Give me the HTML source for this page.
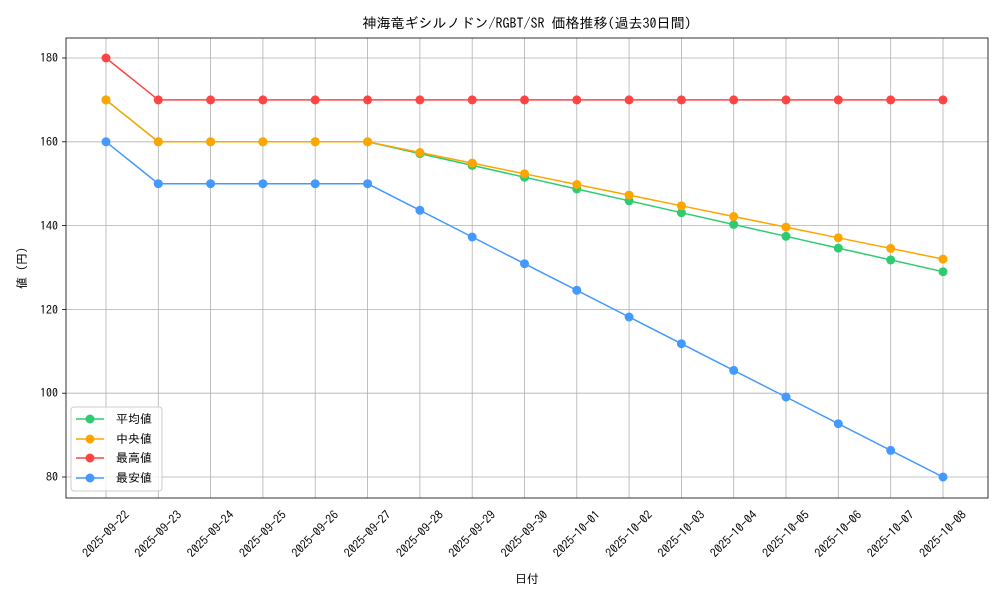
<!DOCTYPE html>
<html><head><meta charset="utf-8"><style>body{margin:0;background:#fff}svg{display:block}text{font-family:"IPAGothic","Noto Sans CJK JP",sans-serif;fill:#000}</style></head><body>
<svg width="1000" height="600" xmlns="http://www.w3.org/2000/svg">
<rect width="1000" height="600" fill="#fff"/>
<g stroke="#b0b0b0" stroke-width="0.8">
<line x1="106" y1="38" x2="106" y2="498"/><line x1="158.3" y1="38" x2="158.3" y2="498"/><line x1="210.6" y1="38" x2="210.6" y2="498"/><line x1="262.9" y1="38" x2="262.9" y2="498"/><line x1="315.2" y1="38" x2="315.2" y2="498"/><line x1="367.6" y1="38" x2="367.6" y2="498"/><line x1="419.9" y1="38" x2="419.9" y2="498"/><line x1="472.2" y1="38" x2="472.2" y2="498"/><line x1="524.5" y1="38" x2="524.5" y2="498"/><line x1="576.8" y1="38" x2="576.8" y2="498"/><line x1="629.1" y1="38" x2="629.1" y2="498"/><line x1="681.4" y1="38" x2="681.4" y2="498"/><line x1="733.7" y1="38" x2="733.7" y2="498"/><line x1="786" y1="38" x2="786" y2="498"/><line x1="838.3" y1="38" x2="838.3" y2="498"/><line x1="890.7" y1="38" x2="890.7" y2="498"/><line x1="943" y1="38" x2="943" y2="498"/>
<line x1="66" y1="58" x2="988" y2="58"/><line x1="66" y1="141.8" x2="988" y2="141.8"/><line x1="66" y1="225.6" x2="988" y2="225.6"/><line x1="66" y1="309.4" x2="988" y2="309.4"/><line x1="66" y1="393.2" x2="988" y2="393.2"/><line x1="66" y1="477" x2="988" y2="477"/>
</g>
<rect x="66" y="38" width="922" height="460" fill="none" stroke="#000" stroke-width="0.8"/>
<g stroke="#000" stroke-width="0.8">
<line x1="62" y1="58" x2="66" y2="58"/><line x1="62" y1="141.8" x2="66" y2="141.8"/><line x1="62" y1="225.6" x2="66" y2="225.6"/><line x1="62" y1="309.4" x2="66" y2="309.4"/><line x1="62" y1="393.2" x2="66" y2="393.2"/><line x1="62" y1="477" x2="66" y2="477"/>
</g>
<g font-size="12" text-anchor="end">
<text x="58" y="62">180</text><text x="58" y="146">160</text><text x="58" y="230">140</text><text x="58" y="314">120</text><text x="58" y="397">100</text><text x="58" y="481">80</text>
</g>
<g font-size="12" text-anchor="middle">
<text transform="translate(106,534) rotate(-45)" dy="4">2025-09-22</text>
<text transform="translate(158.3,534) rotate(-45)" dy="4">2025-09-23</text>
<text transform="translate(210.6,534) rotate(-45)" dy="4">2025-09-24</text>
<text transform="translate(262.9,534) rotate(-45)" dy="4">2025-09-25</text>
<text transform="translate(315.2,534) rotate(-45)" dy="4">2025-09-26</text>
<text transform="translate(367.6,534) rotate(-45)" dy="4">2025-09-27</text>
<text transform="translate(419.9,534) rotate(-45)" dy="4">2025-09-28</text>
<text transform="translate(472.2,534) rotate(-45)" dy="4">2025-09-29</text>
<text transform="translate(524.5,534) rotate(-45)" dy="4">2025-09-30</text>
<text transform="translate(576.8,534) rotate(-45)" dy="4">2025-10-01</text>
<text transform="translate(629.1,534) rotate(-45)" dy="4">2025-10-02</text>
<text transform="translate(681.4,534) rotate(-45)" dy="4">2025-10-03</text>
<text transform="translate(733.7,534) rotate(-45)" dy="4">2025-10-04</text>
<text transform="translate(786,534) rotate(-45)" dy="4">2025-10-05</text>
<text transform="translate(838.3,534) rotate(-45)" dy="4">2025-10-06</text>
<text transform="translate(890.7,534) rotate(-45)" dy="4">2025-10-07</text>
<text transform="translate(943,534) rotate(-45)" dy="4">2025-10-08</text>
</g>
<text x="527" y="583" font-size="12" text-anchor="middle">日付</text>
<text transform="translate(26,268) rotate(-90)" font-size="12" text-anchor="middle">値 (円)</text>
<text x="527" y="28" font-size="14" text-anchor="middle">神海竜ギシルノドン/RGBT/SR 価格推移(過去30日間)</text>
<g fill="none" stroke-width="1.5">
<polyline stroke="#2ecc71" points="106,99.9 158.3,141.8 210.6,141.8 262.9,141.8 315.2,141.8 367.6,141.8 419.9,153.6 472.2,165.4 524.5,177.2 576.8,189 629.1,200.8 681.4,212.7 733.7,224.5 786,236.3 838.3,248.1 890.7,259.9 943,271.7"/>
<polyline stroke="#ffa500" points="106,99.9 158.3,141.8 210.6,141.8 262.9,141.8 315.2,141.8 367.6,141.8 419.9,152.5 472.2,163.1 524.5,173.8 576.8,184.5 629.1,195.1 681.4,205.8 733.7,216.5 786,227.1 838.3,237.8 890.7,248.4 943,259.1"/>
<polyline stroke="#ff4444" points="106,58 158.3,99.9 210.6,99.9 262.9,99.9 315.2,99.9 367.6,99.9 419.9,99.9 472.2,99.9 524.5,99.9 576.8,99.9 629.1,99.9 681.4,99.9 733.7,99.9 786,99.9 838.3,99.9 890.7,99.9 943,99.9"/>
<polyline stroke="#4499ff" points="106,141.8 158.3,183.7 210.6,183.7 262.9,183.7 315.2,183.7 367.6,183.7 419.9,210.3 472.2,237 524.5,263.7 576.8,290.3 629.1,317 681.4,343.7 733.7,370.4 786,397 838.3,423.7 890.7,450.4 943,477"/>
</g>
<g fill="#2ecc71"><circle cx="106" cy="99.9" r="4.5"/><circle cx="158.3" cy="141.8" r="4.5"/><circle cx="210.6" cy="141.8" r="4.5"/><circle cx="262.9" cy="141.8" r="4.5"/><circle cx="315.2" cy="141.8" r="4.5"/><circle cx="367.6" cy="141.8" r="4.5"/><circle cx="419.9" cy="153.6" r="4.5"/><circle cx="472.2" cy="165.4" r="4.5"/><circle cx="524.5" cy="177.2" r="4.5"/><circle cx="576.8" cy="189" r="4.5"/><circle cx="629.1" cy="200.8" r="4.5"/><circle cx="681.4" cy="212.7" r="4.5"/><circle cx="733.7" cy="224.5" r="4.5"/><circle cx="786" cy="236.3" r="4.5"/><circle cx="838.3" cy="248.1" r="4.5"/><circle cx="890.7" cy="259.9" r="4.5"/><circle cx="943" cy="271.7" r="4.5"/></g>
<g fill="#ffa500"><circle cx="106" cy="99.9" r="4.5"/><circle cx="158.3" cy="141.8" r="4.5"/><circle cx="210.6" cy="141.8" r="4.5"/><circle cx="262.9" cy="141.8" r="4.5"/><circle cx="315.2" cy="141.8" r="4.5"/><circle cx="367.6" cy="141.8" r="4.5"/><circle cx="419.9" cy="152.5" r="4.5"/><circle cx="472.2" cy="163.1" r="4.5"/><circle cx="524.5" cy="173.8" r="4.5"/><circle cx="576.8" cy="184.5" r="4.5"/><circle cx="629.1" cy="195.1" r="4.5"/><circle cx="681.4" cy="205.8" r="4.5"/><circle cx="733.7" cy="216.5" r="4.5"/><circle cx="786" cy="227.1" r="4.5"/><circle cx="838.3" cy="237.8" r="4.5"/><circle cx="890.7" cy="248.4" r="4.5"/><circle cx="943" cy="259.1" r="4.5"/></g>
<g fill="#ff4444"><circle cx="106" cy="58" r="4.5"/><circle cx="158.3" cy="99.9" r="4.5"/><circle cx="210.6" cy="99.9" r="4.5"/><circle cx="262.9" cy="99.9" r="4.5"/><circle cx="315.2" cy="99.9" r="4.5"/><circle cx="367.6" cy="99.9" r="4.5"/><circle cx="419.9" cy="99.9" r="4.5"/><circle cx="472.2" cy="99.9" r="4.5"/><circle cx="524.5" cy="99.9" r="4.5"/><circle cx="576.8" cy="99.9" r="4.5"/><circle cx="629.1" cy="99.9" r="4.5"/><circle cx="681.4" cy="99.9" r="4.5"/><circle cx="733.7" cy="99.9" r="4.5"/><circle cx="786" cy="99.9" r="4.5"/><circle cx="838.3" cy="99.9" r="4.5"/><circle cx="890.7" cy="99.9" r="4.5"/><circle cx="943" cy="99.9" r="4.5"/></g>
<g fill="#4499ff"><circle cx="106" cy="141.8" r="4.5"/><circle cx="158.3" cy="183.7" r="4.5"/><circle cx="210.6" cy="183.7" r="4.5"/><circle cx="262.9" cy="183.7" r="4.5"/><circle cx="315.2" cy="183.7" r="4.5"/><circle cx="367.6" cy="183.7" r="4.5"/><circle cx="419.9" cy="210.3" r="4.5"/><circle cx="472.2" cy="237" r="4.5"/><circle cx="524.5" cy="263.7" r="4.5"/><circle cx="576.8" cy="290.3" r="4.5"/><circle cx="629.1" cy="317" r="4.5"/><circle cx="681.4" cy="343.7" r="4.5"/><circle cx="733.7" cy="370.4" r="4.5"/><circle cx="786" cy="397" r="4.5"/><circle cx="838.3" cy="423.7" r="4.5"/><circle cx="890.7" cy="450.4" r="4.5"/><circle cx="943" cy="477" r="4.5"/></g>
<rect x="71" y="407" width="91" height="84" rx="3" fill="#fff" fill-opacity="0.8" stroke="#ccc"/>
<g stroke-width="1.5">
<line x1="76" y1="419" x2="104" y2="419" stroke="#2ecc71"/><circle cx="90" cy="419" r="4.5" fill="#2ecc71"/>
<line x1="76" y1="439" x2="104" y2="439" stroke="#ffa500"/><circle cx="90" cy="439" r="4.5" fill="#ffa500"/>
<line x1="76" y1="458" x2="104" y2="458" stroke="#ff4444"/><circle cx="90" cy="458" r="4.5" fill="#ff4444"/>
<line x1="76" y1="478" x2="104" y2="478" stroke="#4499ff"/><circle cx="90" cy="478" r="4.5" fill="#4499ff"/>
</g>
<g font-size="12"><text x="116" y="423">平均値</text><text x="116" y="443">中央値</text><text x="116" y="462">最高値</text><text x="116" y="482">最安値</text></g>
</svg>
</body></html>
